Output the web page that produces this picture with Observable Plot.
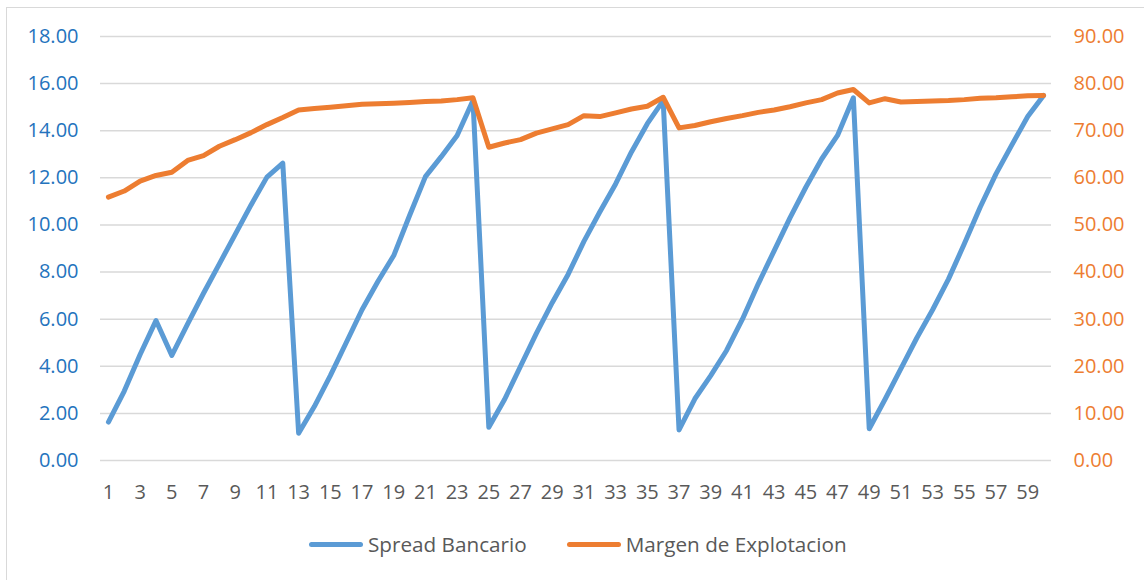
<!DOCTYPE html>
<html>
<head>
<meta charset="utf-8">
<script src="https://cdn.jsdelivr.net/npm/d3@7"></script>
<script src="https://cdn.jsdelivr.net/npm/@observablehq/plot@0.6"></script>
<style>
  html, body { margin: 0; padding: 0; background: #fff; overflow: hidden; }
  #wrap { position: relative; width: 1144px; height: 580px; font-family: "Open Sans", sans-serif; }
  #frame { position: absolute; left: 6px; top: 7px; width: 1150px; height: 590px; border: 1px solid #d9d9d9; box-sizing: border-box; }
  #chart { position: absolute; left: 0; top: 0; }
  #legend { position: absolute; left: 309px; top: 530px; display: flex; align-items: center; font-size: 20.7px; color: #595959; white-space: nowrap; }
  .sw { width: 54px; height: 5px; border-radius: 3px; margin-right: 5px; }
  .item { display: flex; align-items: center; }
</style>
</head>
<body>
<div id="wrap">
  <div id="frame"></div>
  <div id="chart"></div>
  <div id="legend"></div>
</div>
<script>
const periods = [1,2,3,4,5,6,7,8,9,10,11,12,13,14,15,16,17,18,19,20,21,22,23,24,25,26,27,28,29,30,
  31,32,33,34,35,36,37,38,39,40,41,42,43,44,45,46,47,48,49,50,51,52,53,54,55,56,57,58,59,60];

const spreadBancario = [1.63,2.95,4.5,5.94,4.46,5.8,7.1,8.35,9.6,10.85,12.03,12.62,
  1.16,2.3,3.6,5.0,6.4,7.6,8.7,10.4,12.05,12.9,13.8,15.28,
  1.41,2.6,4.0,5.4,6.7,7.9,9.3,10.55,11.74,13.1,14.3,15.28,
  1.3,2.62,3.6,4.67,6.0,7.5,8.9,10.3,11.6,12.8,13.8,15.4,
  1.35,2.6,3.9,5.2,6.4,7.7,9.2,10.75,12.17,13.4,14.6,15.5];

const margenExplotacion = [55.9,57.2,59.3,60.5,61.2,63.7,64.7,66.7,68.1,69.6,71.3,72.8,
  74.4,74.7,75.0,75.3,75.6,75.75,75.85,76.0,76.2,76.3,76.6,77.0,
  66.5,67.4,68.1,69.5,70.4,71.3,73.2,73.0,73.8,74.6,75.2,77.1,
  70.6,71.1,71.9,72.6,73.2,73.9,74.4,75.1,75.9,76.6,78.0,78.75,
  75.9,76.8,76.1,76.2,76.3,76.4,76.6,76.9,77.0,77.2,77.4,77.5];

const leftTicks = [0,2,4,6,8,10,12,14,16,18];
const rightTicks = [0,10,20,30,40,50,60,70,80,90];
const xTicks = [1,3,5,7,9,11,13,15,17,19,21,23,25,27,29,31,33,35,37,39,41,43,45,47,49,51,53,55,57,59];
const seriesNames = ["Spread Bancario", "Margen de Explotacion"];
const colors = ["#5B9BD5", "#ED7D31"];

const ratio = 18 / 90; // secondary axis mapped onto primary
const spreadData = periods.map((p, i) => ({p, v: spreadBancario[i]}));
const margenData = periods.map((p, i) => ({p, v: margenExplotacion[i] * ratio}));

const chart = Plot.plot({
  width: 1144,
  height: 520,
  marginTop: 36,
  marginBottom: 60,
  marginLeft: 100,
  marginRight: 93,
  style: {fontFamily: "'Open Sans', sans-serif", fontSize: "20px", background: "transparent"},
  x: {type: "linear", domain: [0.5, 60.5]},
  y: {domain: [0, 18]},
  marks: [
    Plot.ruleY(leftTicks, {stroke: "#d9d9d9", strokeWidth: 1.5}),
    Plot.axisY({ticks: leftTicks, tickSize: 0, tickPadding: 22, tickFormat: d => d.toFixed(2), fill: "#2473BD", label: null, anchor: "left"}),
    Plot.axisY({ticks: rightTicks.map(t => t * ratio), tickSize: 0, tickPadding: 22, tickFormat: d => (d / ratio).toFixed(2), fill: "#ED7D31", label: null, anchor: "right", textAnchor: "start"}),
    Plot.axisX({ticks: xTicks, tickSize: 0, tickPadding: 24, tickFormat: d => String(d), fill: "#595959", label: null}),
    Plot.line(spreadData, {x: "p", y: "v", stroke: colors[0], strokeWidth: 5, strokeLinejoin: "round", strokeLinecap: "round"}),
    Plot.line(margenData, {x: "p", y: "v", stroke: colors[1], strokeWidth: 5, strokeLinejoin: "round", strokeLinecap: "round"})
  ]
});
document.getElementById("chart").appendChild(chart);

const legend = document.getElementById("legend");
seriesNames.forEach((name, i) => {
  const item = document.createElement("div");
  item.className = "item";
  if (i > 0) item.style.marginLeft = "40px";
  const sw = document.createElement("div");
  sw.className = "sw";
  sw.style.background = colors[i];
  const t = document.createElement("span");
  t.textContent = name;
  item.appendChild(sw);
  item.appendChild(t);
  legend.appendChild(item);
});
</script>
</body>
</html>
